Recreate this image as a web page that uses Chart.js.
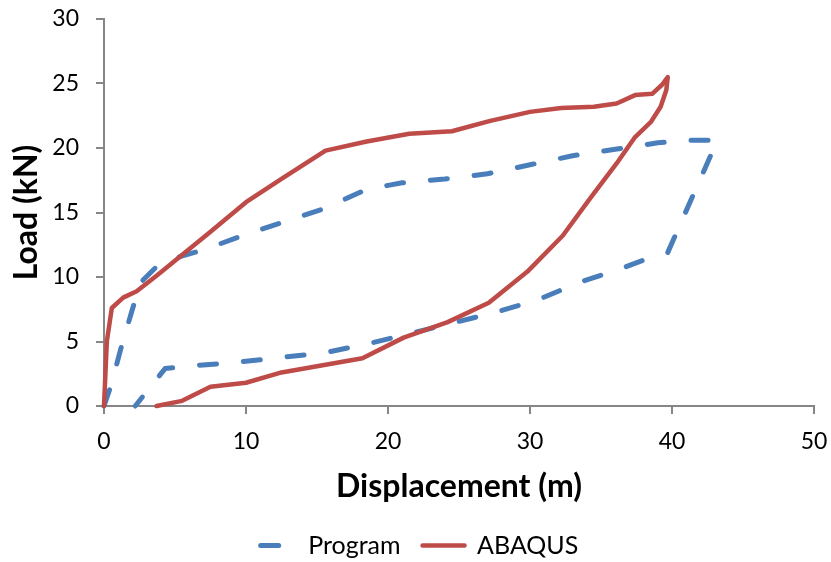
<!DOCTYPE html>
<html lang="en">
<head>
<meta charset="UTF-8">
<title>Load vs Displacement</title>
<script src="https://cdn.jsdelivr.net/npm/chart.js"></script>
<style>
    html, body { margin: 0; padding: 0; background: #fff; }
    .chart-box { width: 831px; height: 562px; }
</style>
</head>
<body>
<div class="chart-box"><canvas id="chart"></canvas></div>
<script>
    // Program (dashed blue)
    const programX = [0, 0.5, 1.2, 2.0, 2.6, 3.8, 5.4, 7.0, 10.0, 13.0, 15.5, 18.5, 21.0, 24.0, 27.0, 30.0, 33.0, 36.0, 39.0, 41.0, 43.2, 39.7, 38.2, 36.3, 33.5, 30.7, 27.7, 24.6, 21.5, 18.5, 15.4, 12.3, 9.0, 5.9, 4.3, 2.2];
    const programY = [0, 1.6, 4.5, 7.5, 9.6, 10.9, 11.6, 12.1, 13.3, 14.4, 15.3, 16.8, 17.3, 17.6, 18.0, 18.7, 19.4, 19.9, 20.4, 20.6, 20.6, 11.9, 11.4, 10.6, 9.6, 8.3, 7.3, 6.45, 5.6, 4.8, 4.1, 3.75, 3.35, 3.1, 2.9, 0];

    // ABAQUS (solid red)
    const abaqusX = [0, 0.2, 0.55, 1.35, 2.3, 3.7, 5.6, 7.5, 10.0, 12.5, 15.6, 18.5, 21.5, 24.5, 27.2, 30.0, 32.2, 34.5, 36.1, 37.4, 38.6, 39.3, 39.7, 39.6, 39.2, 38.5, 37.4, 36.1, 34.3, 32.3, 29.8, 27.1, 24.2, 21.1, 18.2, 12.5, 10.0, 7.5, 5.5, 3.7];
    const abaqusY = [0, 5.0, 7.6, 8.4, 8.9, 10.1, 11.8, 13.5, 15.8, 17.6, 19.8, 20.5, 21.1, 21.3, 22.1, 22.8, 23.1, 23.2, 23.45, 24.1, 24.2, 24.9, 25.5, 24.5, 23.2, 22.0, 20.85, 18.8, 16.2, 13.2, 10.4, 8.0, 6.5, 5.3, 3.7, 2.6, 1.8, 1.5, 0.4, 0];

    const xTicks = [0, 10, 20, 30, 40, 50];
    const yTicks = [0, 5, 10, 15, 20, 25, 30];

    const FONT = 'Lato, Carlito, "Open Sans", sans-serif';
    const AXIS_GREY = '#868686';

    function toPoints(xs, ys) {
        return xs.map((x, i) => ({ x: x, y: ys[i] }));
    }

    // legend in the original sits centred on the whole page, not on the padded box
    const legendShift = {
        id: 'legendShift',
        afterLayout(chart) {
            chart.legend.left += 9;
            chart.legend.right += 9;
        }
    };

    const ctx = document.getElementById('chart').getContext('2d');
    new Chart(ctx, {
        type: 'scatter',
        data: {
            datasets: [
                {
                    label: 'ABAQUS',
                    data: toPoints(abaqusX, abaqusY),
                    showLine: true,
                    borderColor: '#BE4B48',
                    backgroundColor: '#BE4B48',
                    borderWidth: 4.5,
                    borderJoinStyle: 'round',
                    borderCapStyle: 'round',
                    pointRadius: 0,
                    tension: 0,
                    clip: false
                },
                {
                    label: 'Program',
                    data: toPoints(programX, programY),
                    showLine: true,
                    borderColor: '#4A7EBB',
                    backgroundColor: '#4A7EBB',
                    borderWidth: 5,
                    borderDash: [17, 27],
                    borderCapStyle: 'round',
                    borderJoinStyle: 'round',
                    pointRadius: 0,
                    tension: 0,
                    clip: false
                }
            ]
        },
        plugins: [legendShift],
        options: {
            responsive: true,
            maintainAspectRatio: false,
            animation: false,
            // negative bottom lets the legend sit a little lower, like the original
            layout: { padding: { left: 0, right: 17, top: 19, bottom: -6 } },
            plugins: {
                tooltip: { enabled: false },
                legend: {
                    position: 'bottom',
                    reverse: true,
                    labels: {
                        font: { family: FONT, size: 25 },
                        color: '#000',
                        boxWidth: 42,
                        boxHeight: 0,
                        padding: 22,
                        generateLabels(chart) {
                            const items = Chart.defaults.plugins.legend.labels.generateLabels(chart);
                            items.forEach(it => {
                                it.lineCap = 'round';
                                if (it.lineDash && it.lineDash.length) {
                                    // one short dash, a bit in from the left of the key
                                    it.lineDash = [18, 200];
                                    it.lineDashOffset = 211;
                                }
                            });
                            return items;
                        }
                    }
                }
            },
            scales: {
                x: {
                    type: 'linear',
                    min: 0,
                    max: 50,
                    afterBuildTicks(scale) { scale.ticks = xTicks.map(v => ({ value: v })); },
                    afterFit(scale) {
                        scale.height = 105;
                        scale.paddingLeft = 0;
                        scale.paddingRight = 0;
                    },
                    border: { color: AXIS_GREY, width: 2 },
                    grid: { drawOnChartArea: false, color: AXIS_GREY, lineWidth: 2, tickLength: 8 },
                    ticks: { color: '#000', font: { family: FONT, size: 23 }, padding: 14, maxRotation: 0 },
                    title: {
                        display: true,
                        text: 'Displacement (m)',
                        color: '#000',
                        font: { family: FONT, size: 32, weight: 'bold' },
                        padding: { top: 0, bottom: 5 }
                    }
                },
                y: {
                    type: 'linear',
                    min: 0,
                    max: 30,
                    afterBuildTicks(scale) { scale.ticks = yTicks.map(v => ({ value: v })); },
                    afterFit(scale) {
                        scale.width = 104;
                        scale.paddingTop = 0;
                        scale.paddingBottom = 0;
                    },
                    border: { color: AXIS_GREY, width: 2 },
                    grid: { drawOnChartArea: false, color: AXIS_GREY, lineWidth: 2, tickLength: 8 },
                    ticks: { color: '#000', font: { family: FONT, size: 23 }, padding: 17 },
                    title: {
                        display: true,
                        text: 'Load (kN)',
                        color: '#000',
                        font: { family: FONT, size: 32, weight: 'bold' },
                        padding: { top: 7, bottom: 0 }
                    }
                }
            }
        }
    });
</script>
</body>
</html>
